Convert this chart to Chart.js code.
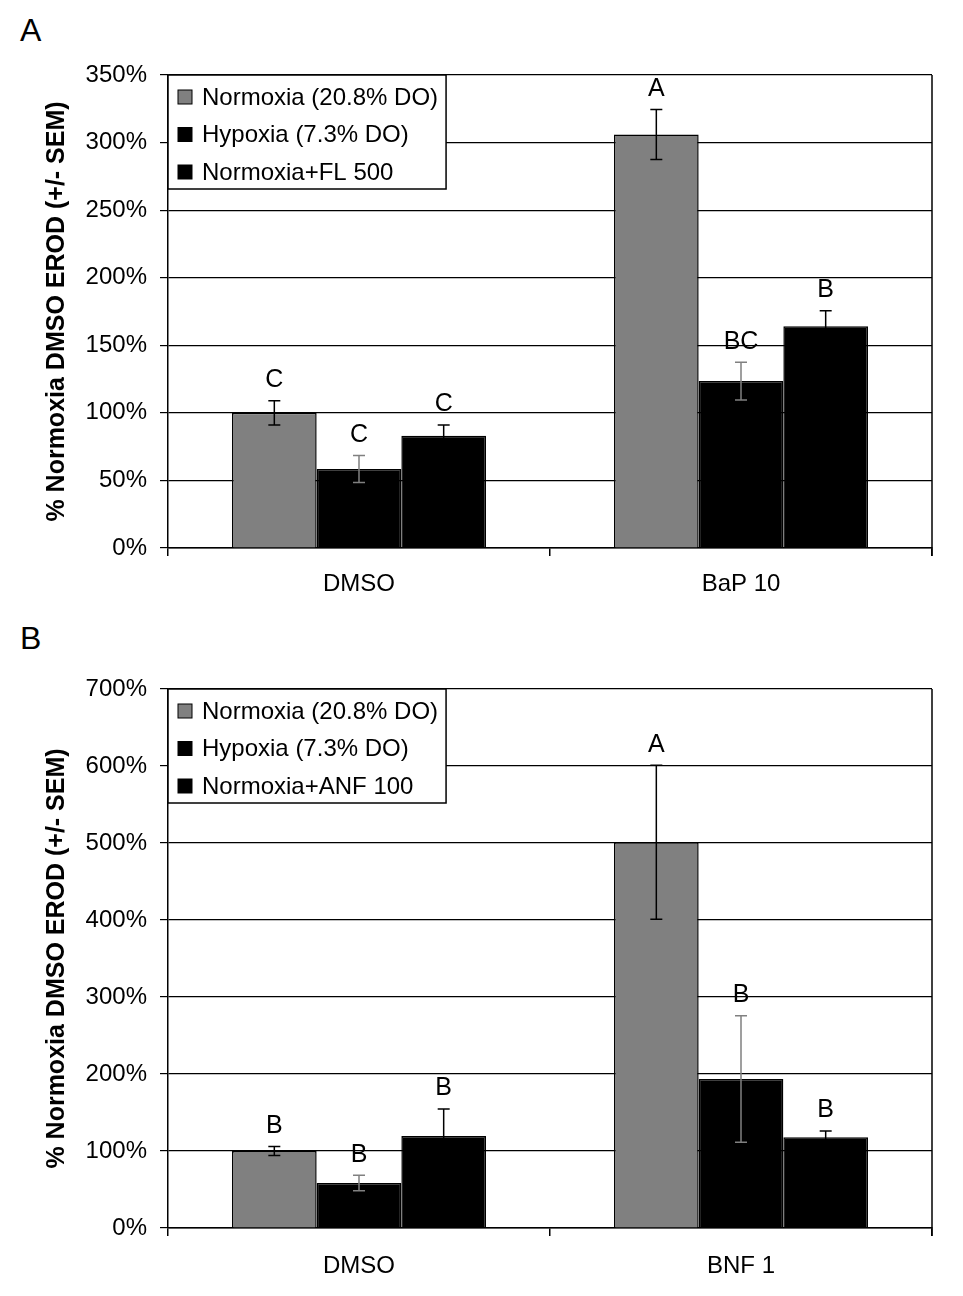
<!DOCTYPE html>
<html>
<head>
<meta charset="utf-8">
<script src="https://cdn.jsdelivr.net/npm/chart.js@4.4.1/dist/chart.umd.min.js"></script>
<style>
  html, body { margin: 0; padding: 0; background: #fff; }
  body { width: 963px; height: 1296px; position: relative; overflow: hidden; font-family: "Liberation Sans", Arial, sans-serif; }
  .panel { position: absolute; left: 0; }
  .tag { position: absolute; left: 20px; font-size: 32px; color: #000; }
</style>
</head>
<body>
<div class="tag" style="top:12px">A</div>
<div class="tag" style="top:620px">B</div>
<div class="panel" style="top:0"><canvas id="chartA" width="963" height="620"></canvas></div>
<div class="panel" style="top:620px"><canvas id="chartB" width="963" height="676"></canvas></div>
<script>
// panel A data
const groupsA = ['DMSO', 'BaP 10'];
const normoxiaA = [100, 306];
const normoxiaErrA = [9, 18.5];
const hypoxiaA = [58.5, 123.5];
const hypoxiaErrA = [10, 14];
const fl500A = [83, 164];
const fl500ErrA = [8, 11.5];
const lettersNormA = ['C', 'A'];
const lettersHypA = ['C', 'BC'];
const lettersFlA = ['C', 'B'];

// panel B data
const groupsB = ['DMSO', 'BNF 1'];
const normoxiaB = [100, 501];
const normoxiaErrB = [6, 100];
const hypoxiaB = [58.5, 193.5];
const hypoxiaErrB = [10, 82];
const anf100B = [119.5, 118];
const anf100ErrB = [35, 8];
const lettersNormB = ['B', 'A'];
const lettersHypB = ['B', 'B'];
const lettersAnfB = ['B', 'B'];

const FONT = '"Liberation Sans", Arial, sans-serif';
const GRAY = '#808080';

// error bars + significance letters
const errorBars = {
  id: 'errorBars',
  afterDatasetsDraw(chart) {
    const ctx = chart.ctx, y = chart.scales.y;
    chart.data.datasets.forEach((ds, di) => {
      const meta = chart.getDatasetMeta(di);
      meta.data.forEach((bar, i) => {
        const v = ds.data[i], e = ds.err[i];
        const top = y.getPixelForValue(v + e), bot = y.getPixelForValue(v - e);
        ctx.save();
        ctx.strokeStyle = ds.errColor;
        ctx.lineWidth = 1.5;
        ctx.beginPath();
        ctx.moveTo(bar.x, top); ctx.lineTo(bar.x, bot);
        ctx.moveTo(bar.x - 6, top); ctx.lineTo(bar.x + 6, top);
        ctx.moveTo(bar.x - 6, bot); ctx.lineTo(bar.x + 6, bot);
        ctx.stroke();
        ctx.fillStyle = '#000';
        ctx.font = '25px ' + FONT;
        ctx.textAlign = 'center';
        ctx.textBaseline = 'bottom';
        ctx.fillText(ds.letters[i], bar.x, top - 8);
        ctx.restore();
      });
    });
  }
};

// right frame line + boxed legend inside plot area
const frameLegend = {
  id: 'frameLegend',
  afterDatasetsDraw(chart) {
    const ctx = chart.ctx, a = chart.chartArea;
    ctx.save();
    ctx.strokeStyle = '#000';
    ctx.lineWidth = 1.5;
    ctx.beginPath();
    ctx.moveTo(a.right, a.top); ctx.lineTo(a.right, a.bottom + 8);
    ctx.stroke();

    ctx.font = '24px ' + FONT;
    const items = chart.data.datasets;
    let w = 0;
    items.forEach(d => { w = Math.max(w, ctx.measureText(d.label).width); });
    const boxW = 34 + w + 8, rowH = 37.5, boxH = 22 + rowH * (items.length - 1) + 15 + 2;
    ctx.fillStyle = '#fff';
    ctx.fillRect(a.left, a.top, boxW, boxH);
    ctx.strokeRect(a.left, a.top, boxW, boxH);
    items.forEach((d, i) => {
      const cy = a.top + 22 + i * rowH;
      ctx.fillStyle = d.backgroundColor;
      ctx.fillRect(a.left + 10, cy - 7, 14, 14);
      ctx.lineWidth = 1;
      ctx.strokeRect(a.left + 10, cy - 7, 14, 14);
      ctx.fillStyle = '#000';
      ctx.textAlign = 'left';
      ctx.textBaseline = 'middle';
      ctx.fillText(d.label, a.left + 34, cy + 1);
    });
    ctx.restore();
  }
};

function makeChart(id, groups, series, yMax, yStep, areaTop, areaBottom, labelPad) {
  const canvas = document.getElementById(id);
  const H = canvas.height;
  return new Chart(canvas, {
    type: 'bar',
    data: {
      labels: groups,
      datasets: series.map(s => ({
        label: s.label,
        data: s.data,
        err: s.err,
        letters: s.letters,
        errColor: s.errColor,
        backgroundColor: s.color,
        borderColor: '#000',
        borderWidth: 1.5,
        categoryPercentage: 0.665,
        barPercentage: 1.0
      }))
    },
    options: {
      responsive: false,
      animation: false,
      devicePixelRatio: 1,
      layout: { padding: { top: areaTop, right: 31, left: 0, bottom: 0 } },
      plugins: { legend: { display: false }, tooltip: { enabled: false } },
      scales: {
        x: {
          offset: true,
          grid: { offset: true, drawOnChartArea: false, drawTicks: true, tickLength: 8, color: '#000', lineWidth: 1.5 },
          border: { display: true, color: '#000', width: 1.5 },
          ticks: { color: '#000', font: { family: FONT, size: 24 }, padding: labelPad },
          afterFit: s => { s.height = H - areaBottom; }
        },
        y: {
          min: 0, max: yMax,
          grid: { color: '#000', lineWidth: 1.2, tickLength: 8, drawTicks: true },
          border: { display: true, color: '#000', width: 1.5 },
          ticks: { stepSize: yStep, color: '#000', font: { family: FONT, size: 24 }, padding: 13,
                   callback: v => v + '%' },
          title: { display: true, text: '% Normoxia DMSO EROD (+/- SEM)', color: '#000',
                   font: { family: FONT, size: 25, weight: 'bold' }, padding: { top: 42, bottom: 0 } },
          afterFit: s => { s.width = 168; }
        }
      }
    },
    plugins: [errorBars, frameLegend]
  });
}

makeChart('chartA', groupsA, [
  { label: 'Normoxia (20.8% DO)', data: normoxiaA, err: normoxiaErrA, letters: lettersNormA, color: GRAY, errColor: '#000' },
  { label: 'Hypoxia (7.3% DO)', data: hypoxiaA, err: hypoxiaErrA, letters: lettersHypA, color: '#000', errColor: GRAY },
  { label: 'Normoxia+FL 500', data: fl500A, err: fl500ErrA, letters: lettersFlA, color: '#000', errColor: '#000' }
], 350, 50, 75, 548, 14);

makeChart('chartB', groupsB, [
  { label: 'Normoxia (20.8% DO)', data: normoxiaB, err: normoxiaErrB, letters: lettersNormB, color: GRAY, errColor: '#000' },
  { label: 'Hypoxia (7.3% DO)', data: hypoxiaB, err: hypoxiaErrB, letters: lettersHypB, color: '#000', errColor: GRAY },
  { label: 'Normoxia+ANF 100', data: anf100B, err: anf100ErrB, letters: lettersAnfB, color: '#000', errColor: '#000' }
], 700, 100, 69, 608, 16);
</script>
</body>
</html>
